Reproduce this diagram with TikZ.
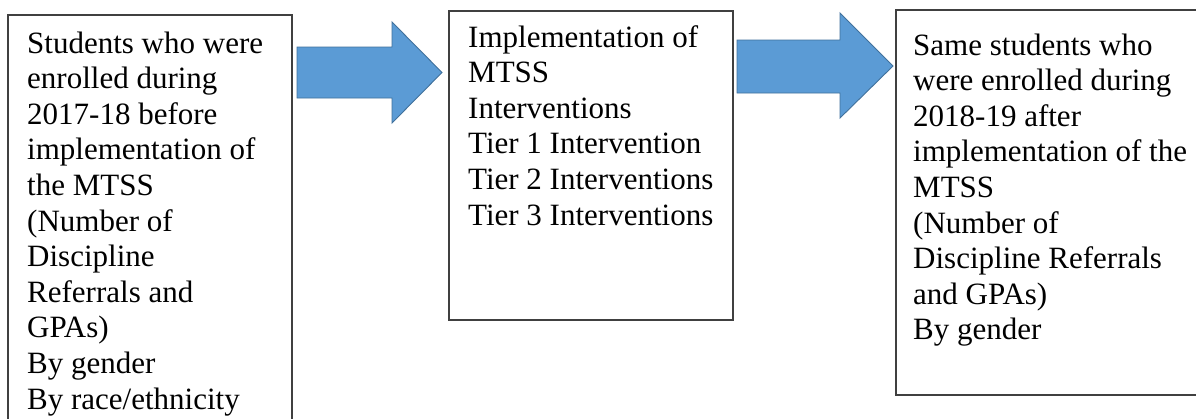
\documentclass[tikz,border=0pt]{standalone}
\usepackage{fontspec}
\setmainfont{Liberation Serif}
\definecolor{boxline}{HTML}{404040}
\definecolor{arrowfill}{HTML}{5B9BD5}
\definecolor{arrowline}{HTML}{41719C}
\tikzset{
  framebox/.style={draw=boxline, line width=1.4pt, fill=white},
  blockarrow/.style={draw=arrowline, line width=0.9pt, fill=arrowfill, line join=miter},
  boxtext/.style={anchor=base west, inner sep=0pt, text=black},
}
\newcommand{\boxlines}[2]{\parbox[t]{#1}{\fontsize{31}{35.6}\selectfont\raggedright #2}}
\begin{document}
\begin{tikzpicture}[x=1pt,y=-1pt]
\useasboundingbox (0,0) rectangle (1196,418);
\clip (0,0) rectangle (1196,418);
\fill[white] (0,0) rectangle (1196,418);
% boxes
\draw[framebox] (8,15) rectangle (292,430);
\draw[framebox] (449,11) rectangle (733,320);
\draw[framebox] (896,10) rectangle (1210,395);
% texts
\node[boxtext] (left) at (27,53) {\boxlines{265pt}{Students who were\\enrolled during\\2017-18 before\\implementation of\\the MTSS\\(Number of\\Discipline\\Referrals and\\GPAs)\\By gender\\By race/ethnicity}};
\node[boxtext] (mid) at (468,47) {\boxlines{265pt}{Implementation of\\MTSS\\Interventions\\Tier 1 Intervention\\Tier 2 Interventions\\Tier 3 Interventions}};
\node[boxtext] (right) at (913,55) {\boxlines{280pt}{Same students who\\were enrolled during\\2018-19 after\\implementation of the\\MTSS\\(Number of\\Discipline Referrals\\and GPAs)\\By gender}};
% block arrows
\draw[blockarrow] (297,47) -- (392,47) -- (392,22) -- (442,72.5) -- (392,123) -- (392,98) -- (297,98) -- cycle;
\draw[blockarrow] (737,40) -- (840,40) -- (840,13) -- (893,66) -- (840,118) -- (840,93) -- (737,93) -- cycle;
\end{tikzpicture}
\end{document}
